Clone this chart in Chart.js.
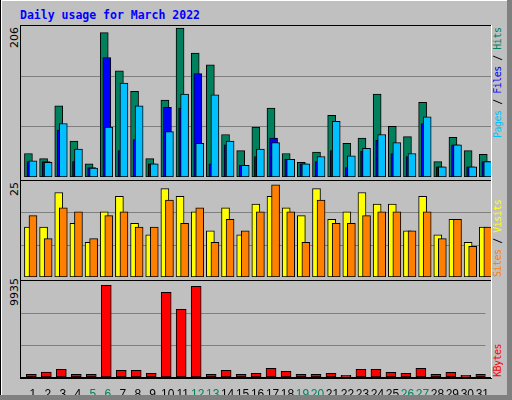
<!DOCTYPE html>
<html><head><meta charset="utf-8">
<script src="https://cdn.jsdelivr.net/npm/chart.js@4"></script>
<style>
html,body{margin:0;padding:0;}
body{width:512px;height:400px;background:#c0c0c0;position:relative;overflow:hidden;font-family:"DejaVu Sans Mono",monospace;}
.abs{position:absolute;}
canvas{position:absolute;}
.rot{position:absolute;transform-origin:0 0;transform:rotate(-90deg);white-space:nowrap;}
</style></head><body>
<div class="abs" style="left:0;top:0;width:512px;height:1px;background:#fff"></div>
<div class="abs" style="left:0;top:0;width:1px;height:400px;background:#000"></div>
<div class="abs" style="left:1px;top:1px;width:1px;height:394px;background:#fff"></div>
<div class="abs" style="left:507px;top:0;width:5px;height:400px;background:#808080"></div>
<div class="abs" style="left:0;top:395px;width:512px;height:5px;background:#808080"></div>
<div class="abs" style="left:20px;top:8px;color:#0000ff;font-weight:bold;font-size:11.5px;">Daily usage for March 2022</div>
<div class="abs" style="left:20px;top:25px;width:471px;height:1px;background:#000"></div>
<div class="abs" style="left:20px;top:180px;width:471px;height:1px;background:#000"></div>
<div class="abs" style="left:20px;top:280px;width:471px;height:1px;background:#000"></div>
<div class="abs" style="left:20px;top:377px;width:472px;height:2px;background:#000"></div>
<div class="abs" style="left:20px;top:25px;width:1px;height:353px;background:#000"></div>
<div class="abs" style="left:491px;top:25px;width:1px;height:353px;background:#fff"></div>
<canvas id="c1" width="470" height="151" style="left:21px;top:26px"></canvas>
<canvas id="c2" width="470" height="96" style="left:21px;top:181px"></canvas>
<canvas id="c3" width="470" height="114" style="left:21px;top:281px"></canvas>
<div class="rot" style="left:8px;top:48px;font-family:'DejaVu Sans';font-size:11px;">206</div>
<div class="rot" style="left:8px;top:196px;font-family:'DejaVu Sans';font-size:11px;">25</div>
<div class="rot" style="left:8px;top:306px;font-family:'DejaVu Sans';font-size:11px;">9935</div>
<div class="rot" style="left:492px;top:138px;font-size:10px;letter-spacing:-0.5px;"><span style="color:#00c0ff">Pages</span> / <span style="color:#0000ff">Files</span> / <span style="color:#00805c">Hits</span></div>
<div class="rot" style="left:492px;top:277px;font-size:10px;letter-spacing:-0.5px;"><span style="color:#ff8000">Sites</span> / <span style="color:#ffff00">Visits</span></div>
<div class="rot" style="left:492px;top:377px;font-size:10px;letter-spacing:-0.5px;color:#ff0000">KBytes</div>
<script>
const days = Array.from({length:31},(_,i)=>i+1);
const dayLabels = days.map(String);
const weekendDays = [5,6,12,13,19,20,26,27];
const hits  = [32,25,97,49,18,197,145,117,25,105,203,169,153,58,36,68,94,32,20,34,84,46,53,113,69,55,102,21,54,36,31];
const files = [21,21,64,21,13,163,36,51,18,95,94,141,18,44,16,28,53,24,18,21,36,13,35,50,32,28,73,14,44,14,21];
const pages = [22,20,73,38,12,68,128,97,18,62,113,46,112,49,16,38,47,24,18,28,76,29,39,58,47,32,82,14,44,14,21];
const visits = [13,13,22,14,9,17,21,14,11,23,21,17,12,18,11,19,21,18,16,23,15,17,22,19,19,12,21,11,15,9,13];
const sites  = [16,10,18,17,10,16,17,13,13,20,14,18,9,15,12,17,24,17,9,20,14,14,16,17,17,12,17,10,15,8,13];
const kbytes = [280,520,800,280,280,9490,690,690,380,8760,7000,9380,280,690,280,380,900,590,280,280,380,170,800,800,490,380,900,280,490,170,280];
const maxHits = 206, maxVisits = 25, maxKB = 9935;

const pts = (arr, off) => arr.map((v,i)=>({x:days[i]+off, y:v}));
function ds(data, color, order, w){
  return {data, backgroundColor:color, borderColor:'#000', borderWidth:1, barThickness:w, order, grouped:false, borderSkipped:false};
}
function opts(max, showX){
  return {
    responsive:false, animation:false, events:[],
    layout:{padding:0},
    plugins:{legend:{display:false}, tooltip:{enabled:false}},
    scales:{
      x:{type:'linear', min:0.21, max:31.21, display:showX, offset:false,
         grid:{display:false, offset:false}, border:{display:false},
         afterBuildTicks:s=>{s.ticks=days.map(v=>({value:v}));},
         afterFit:s=>{ if(showX) s.height=18; else s.height=0; },
         ticks:{autoSkip:false, maxRotation:0, padding:2, callback:(v)=>dayLabels[v-1],
           color:c=>weekendDays.includes(c.tick.value)?'#00805c':'#000',
           font:{family:'Liberation Sans', size:12}}},
      y:{min:0, max:max, display:true,
         afterBuildTicks:s=>{s.ticks=[{value:max/3},{value:2*max/3}];},
         afterFit:s=>{s.width=0;},
         ticks:{display:false}, border:{display:false},
         grid:{color:'#808080', lineWidth:1, drawTicks:false}}
    }
  };
}
new Chart(document.getElementById('c1'),{type:'bar',data:{datasets:[
  ds(pts(pages,0),'#00c0ff',0,8), ds(pts(files,-0.13),'#0000ff',1,8), ds(pts(hits,-0.3),'#00805c',2,8)]},options:opts(maxHits,false)});
new Chart(document.getElementById('c2'),{type:'bar',data:{datasets:[
  ds(pts(sites,0),'#ff8000',0,8), ds(pts(visits,-0.3),'#ffff00',1,8)]},options:opts(maxVisits,false)});
new Chart(document.getElementById('c3'),{type:'bar',data:{datasets:[
  ds(pts(kbytes,-0.1),'#ff0000',0,10)]},options:opts(maxKB,true)});
</script>
</body></html>
